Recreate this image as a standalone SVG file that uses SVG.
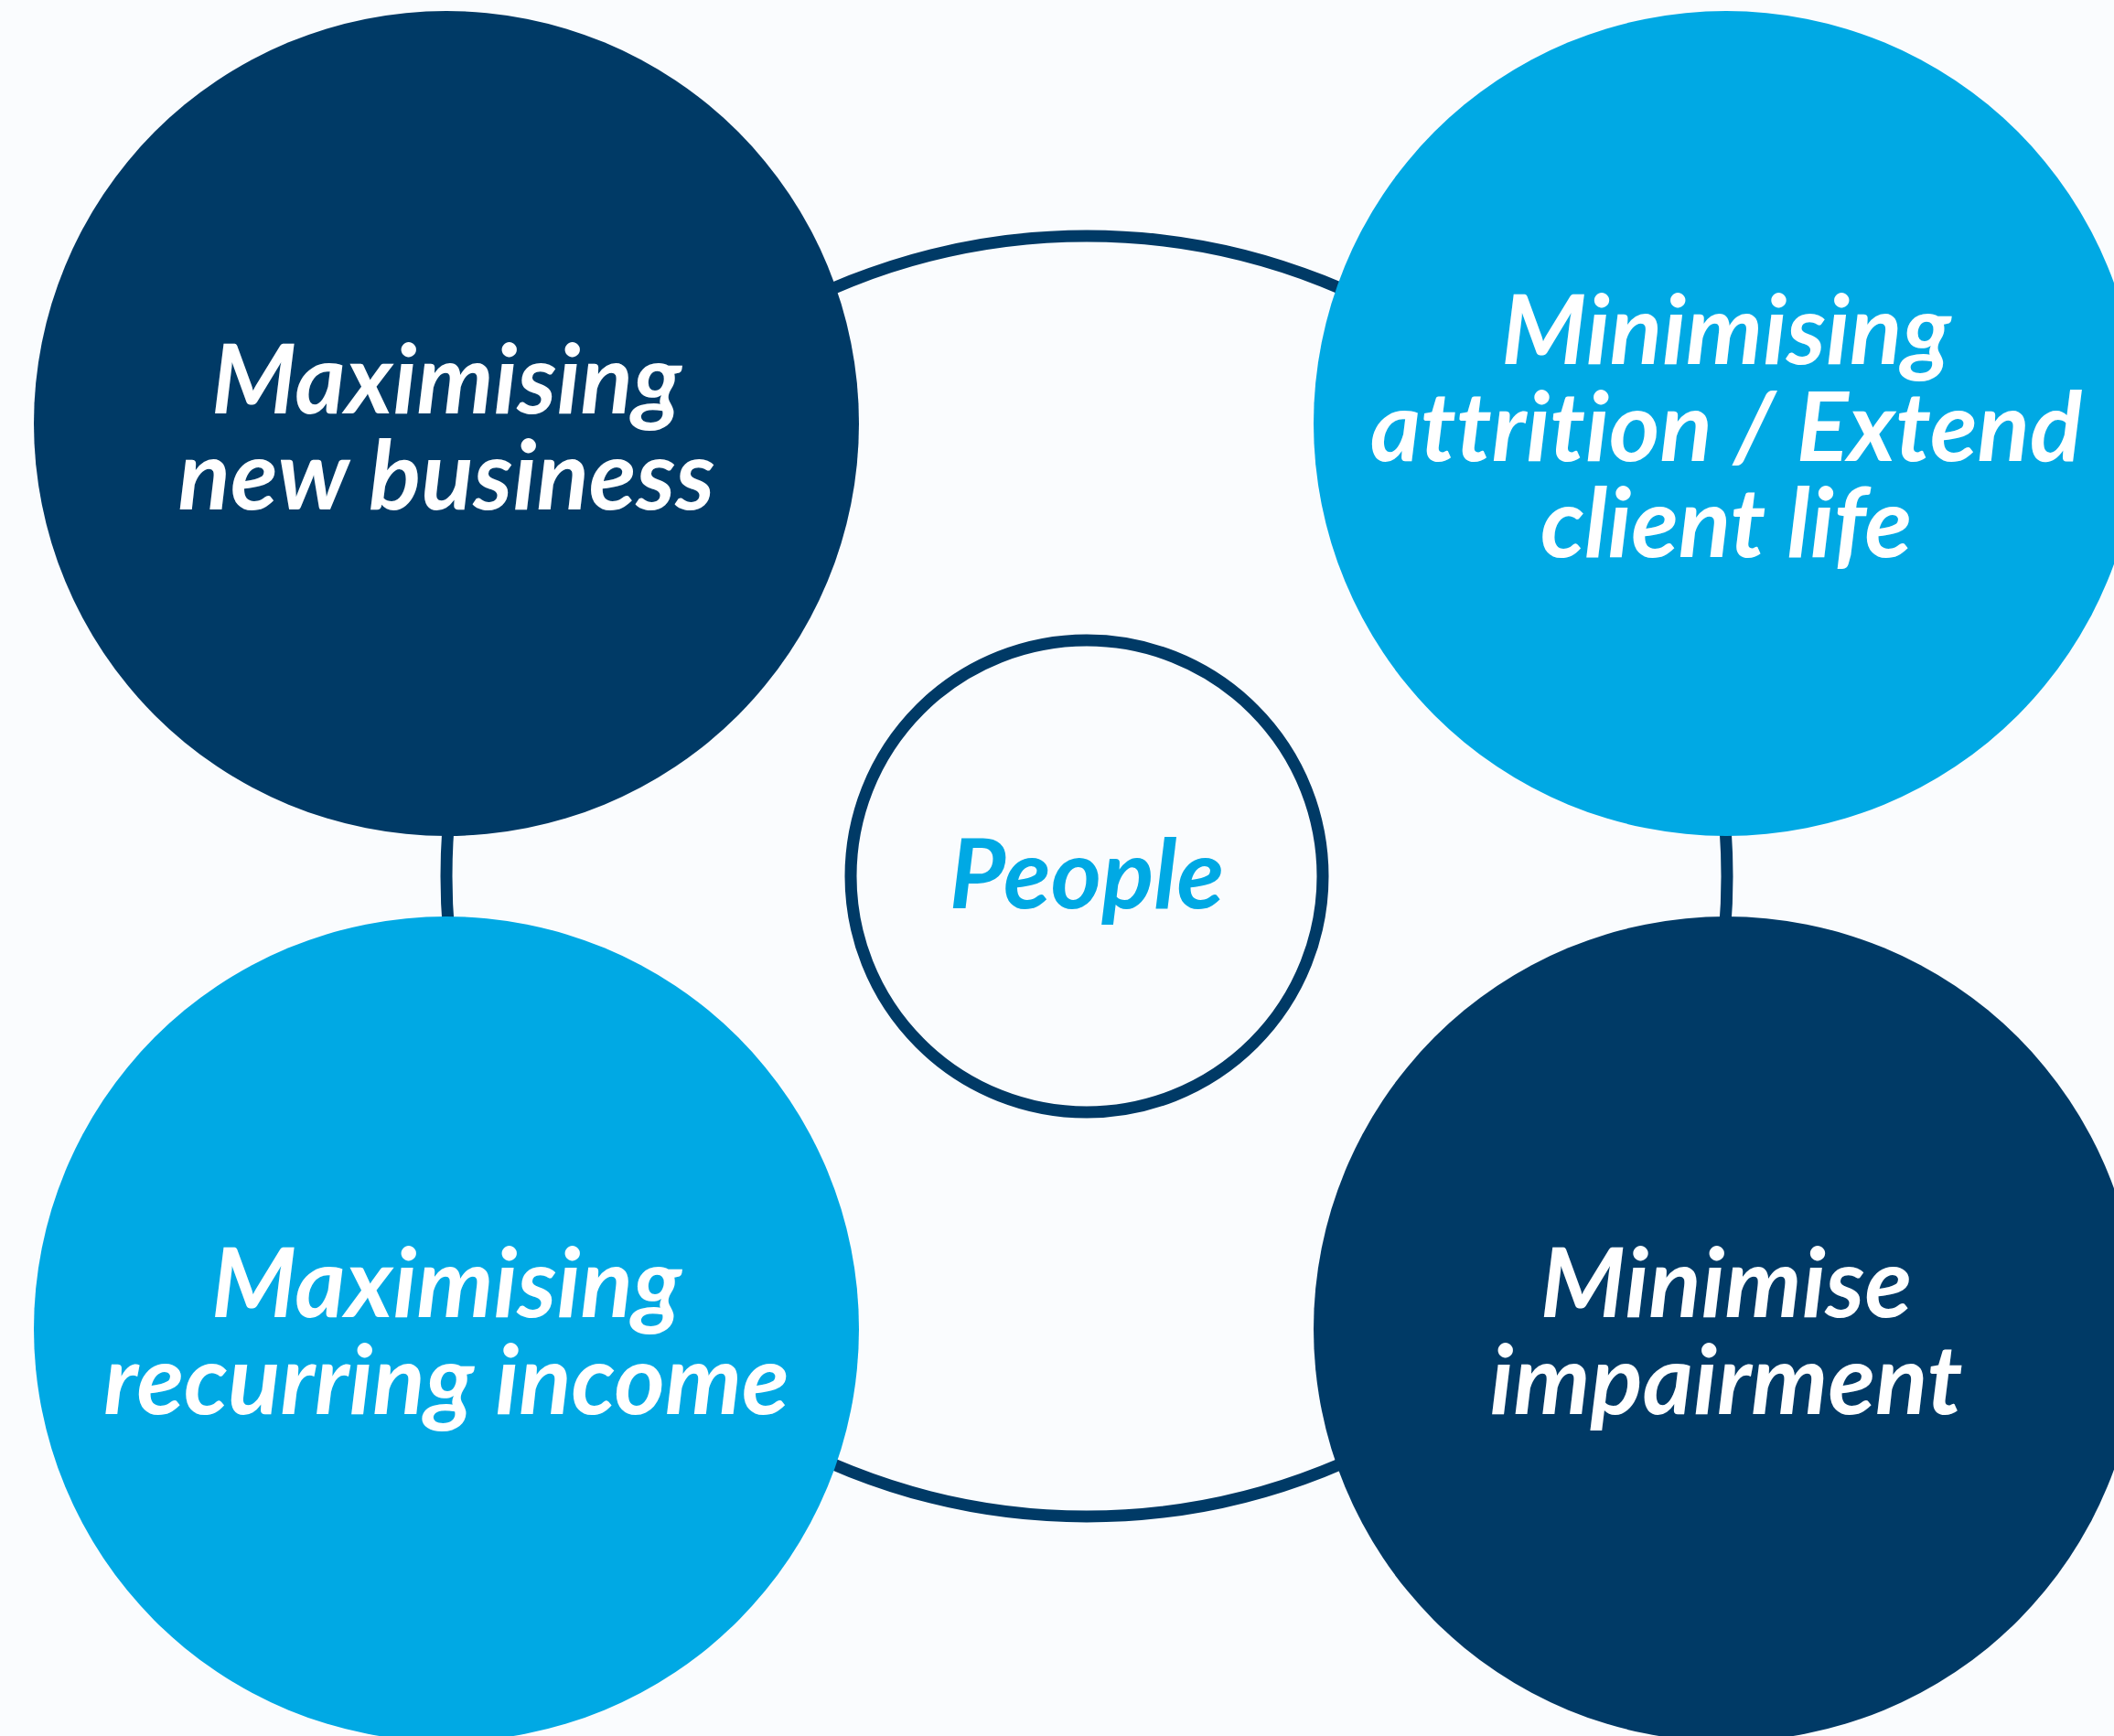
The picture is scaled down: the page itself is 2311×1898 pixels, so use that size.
<svg xmlns="http://www.w3.org/2000/svg" width="2311" height="1898" viewBox="0 0 2311 1898">
  <style>
    .bg { fill: #FAFCFE; }
    .navy { fill: #003A66; }
    .sky { fill: #00A9E4; }
    .ring { fill: none; stroke: #003A66; stroke-width: 13; }
    .label { font-family: Lato, "Open Sans", "Liberation Sans", sans-serif; font-weight: 700; font-style: italic; font-size: 106px; text-anchor: middle; font-variant-ligatures: none; font-feature-settings: "liga" 0, "dlig" 0; }
    .white { fill: #FFFFFF; }
    .blue { fill: #00A9E4; }
  </style>
  <rect class="bg" x="0" y="0" width="2311" height="1898"/>

  <!-- connecting ring behind the four outer circles -->
  <g id="connectors">
    <circle class="ring" cx="1188" cy="958" r="700"/>
  </g>

  <g id="node-new-business">
    <circle class="navy" cx="488" cy="463" r="451"/>
    <text class="label white" x="488" y="452">Maximising</text>
    <text class="label white" x="488" y="557">new business</text>
  </g>

  <g id="node-attrition">
    <circle class="sky" cx="1887" cy="463" r="451"/>
    <text class="label white" x="1887" y="398">Minimising</text>
    <text class="label white" x="1887" y="504">attrition / Extend</text>
    <text class="label white" x="1887" y="609">client life</text>
  </g>

  <g id="node-recurring-income">
    <circle class="sky" cx="488" cy="1453" r="451"/>
    <text class="label white" x="488" y="1440">Maximising</text>
    <text class="label white" x="488" y="1546">recurring income</text>
  </g>

  <g id="node-impairment">
    <circle class="navy" cx="1887" cy="1453" r="451"/>
    <text class="label white" x="1887" y="1440">Minimise</text>
    <text class="label white" x="1887" y="1546">impairment</text>
  </g>

  <g id="node-people">
    <circle class="ring" cx="1188" cy="958" r="258" style="fill:#FAFCFE"/>
    <text class="label blue" x="1188" y="993">People</text>
  </g>
</svg>
